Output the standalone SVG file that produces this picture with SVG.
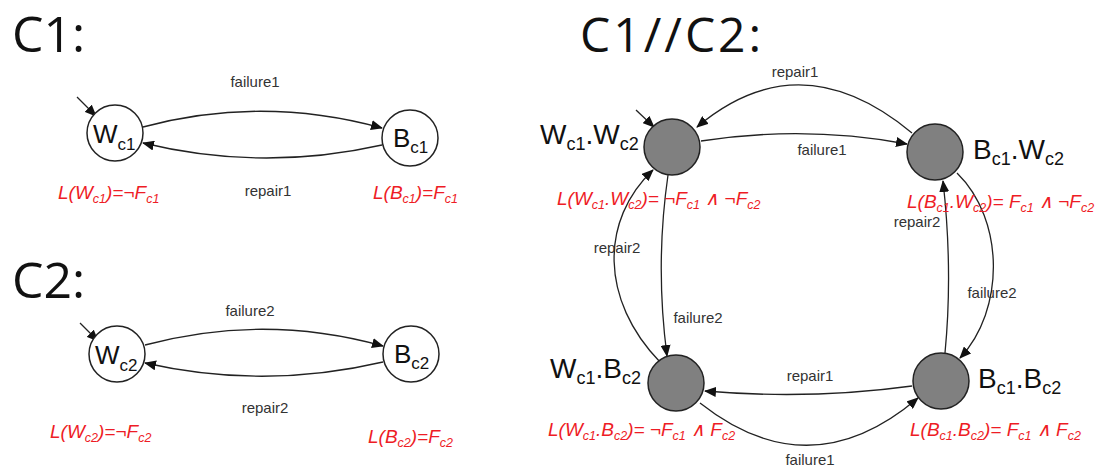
<svg xmlns="http://www.w3.org/2000/svg" width="1110" height="468" viewBox="0 0 1110 468">
<style>
.title{font-family:"Open Sans","Liberation Sans",sans-serif;font-size:50px;fill:#111}
.st{font-family:"Liberation Sans",Arial,sans-serif;font-size:26px;fill:#111}
.big{font-family:"Liberation Sans",Arial,sans-serif;font-size:28px;fill:#111}
.s{font-size:17px}
.sb{font-size:18px}
.lbl{font-family:"Liberation Sans",Arial,sans-serif;font-size:15px;fill:#333}
.prop{font-family:"Liberation Sans",Arial,sans-serif;font-style:italic;font-size:19px;fill:#ee1c25}
.ps{font-size:12.5px}
.ring{fill:#fff;stroke:#222;stroke-width:1.5}
.dot{fill:#808080;stroke:#222;stroke-width:1.5}
.edge{fill:none;stroke:#222;stroke-width:1.3;marker-end:url(#arr)}
</style>
<defs>
<marker id="arr" markerWidth="12" markerHeight="10" refX="11" refY="5" orient="auto" markerUnits="userSpaceOnUse">
<path d="M0,0 L12,5 L0,10 z" fill="#111"/>
</marker>
</defs>

<text class="title" x="12" y="52">C1:</text>
<text class="title" x="12" y="298">C2:</text>
<text class="title" x="580" y="52" style="font-size:48px" letter-spacing="3">C1//C2:</text>

<g id="connectors">
<path class="edge" d="M77,97 L96,116"/>
<path class="edge" d="M143,127 Q262,95 382,128"/>
<path class="edge" d="M382,145 Q262,172 143,143"/>
<path class="edge" d="M80,323 L98,341"/>
<path class="edge" d="M145,345 Q264,313 383,346"/>
<path class="edge" d="M383,362 Q264,390 145,363"/>
<path class="edge" d="M636,110 L654,127"/>
<path class="edge" d="M912,133 Q800,40 697,127"/>
<path class="edge" d="M701,141 Q805,125 907,144"/>
<path class="edge" d="M668,175 Q655,265 667,356"/>
<path class="edge" d="M660,362 C600,300 600,220 653,170"/>
<path class="edge" d="M957,173 C1005,220 1005,310 960,358"/>
<path class="edge" d="M945,353 Q953,270 943,181"/>
<path class="edge" d="M912,386 Q810,400 705,391"/>
<path class="edge" d="M700,403 Q810,490 918,398"/>
<text class="lbl" x="255" y="87" text-anchor="middle">failure1</text>
<text class="lbl" x="268" y="196" text-anchor="middle">repair1</text>
<text class="lbl" x="250" y="316" text-anchor="middle">failure2</text>
<text class="lbl" x="265" y="413" text-anchor="middle">repair2</text>
<text class="lbl" x="795" y="77" text-anchor="middle">repair1</text>
<text class="lbl" x="822" y="155" text-anchor="middle">failure1</text>
<text class="lbl" x="698" y="323" text-anchor="middle">failure2</text>
<text class="lbl" x="617" y="253" text-anchor="middle">repair2</text>
<text class="lbl" x="917" y="227" text-anchor="middle">repair2</text>
<text class="lbl" x="992" y="298" text-anchor="middle">failure2</text>
<text class="lbl" x="810" y="381" text-anchor="middle">repair1</text>
<text class="lbl" x="810" y="465" text-anchor="middle">failure1</text>
</g>

<g id="Wc1">
<circle class="ring" cx="115" cy="133" r="28"/>
<text class="st" x="93" y="143">W<tspan class="s" dy="7">c1</tspan></text>
<text class="prop" x="58" y="199">L(W<tspan class="ps" dy="4">c1</tspan><tspan dy="-4">)=¬F</tspan><tspan class="ps" dy="4">c1</tspan></text>
</g>
<g id="Bc1">
<circle class="ring" cx="410" cy="138" r="28"/>
<text class="st" x="393" y="147">B<tspan class="s" dy="6">c1</tspan></text>
<text class="prop" x="373" y="199">L(B<tspan class="ps" dy="4">c1</tspan><tspan dy="-4">)=F</tspan><tspan class="ps" dy="4">c1</tspan></text>
</g>
<g id="Wc2">
<circle class="ring" cx="117" cy="354" r="28"/>
<text class="st" x="95" y="364">W<tspan class="s" dy="7">c2</tspan></text>
<text class="prop" x="50" y="438">L(W<tspan class="ps" dy="4">c2</tspan><tspan dy="-4">)=¬F</tspan><tspan class="ps" dy="4">c2</tspan></text>
</g>
<g id="Bc2">
<circle class="ring" cx="411" cy="354" r="28"/>
<text class="st" x="394" y="363">B<tspan class="s" dy="6">c2</tspan></text>
<text class="prop" x="368" y="443">L(B<tspan class="ps" dy="4">c2</tspan><tspan dy="-4">)=F</tspan><tspan class="ps" dy="4">c2</tspan></text>
</g>

<g id="WW">
<circle class="dot" cx="672" cy="147" r="28"/>
<text class="big" x="540" y="144">W<tspan class="sb" dy="6">c1</tspan><tspan dy="-6">.W</tspan><tspan class="sb" dy="6">c2</tspan></text>
<text class="prop" x="557" y="205">L(W<tspan class="ps" dy="4">c1</tspan><tspan dy="-4">.W</tspan><tspan class="ps" dy="4">c2</tspan><tspan dy="-4">)= ¬F</tspan><tspan class="ps" dy="4">c1</tspan><tspan dy="-4"> ∧ ¬F</tspan><tspan class="ps" dy="4">c2</tspan></text>
</g>
<g id="BW">
<circle class="dot" cx="935" cy="152" r="28"/>
<text class="big" x="973" y="159">B<tspan class="sb" dy="6">c1</tspan><tspan dy="-6">.W</tspan><tspan class="sb" dy="6">c2</tspan></text>
<text class="prop" x="907" y="208">L(B<tspan class="ps" dy="4">c1</tspan><tspan dy="-4">.W</tspan><tspan class="ps" dy="4">c2</tspan><tspan dy="-4">)= F</tspan><tspan class="ps" dy="4">c1</tspan><tspan dy="-4"> ∧  ¬F</tspan><tspan class="ps" dy="4">c2</tspan></text>
</g>
<g id="WB">
<circle class="dot" cx="676" cy="383" r="28"/>
<text class="big" x="550" y="378">W<tspan class="sb" dy="6">c1</tspan><tspan dy="-6">.B</tspan><tspan class="sb" dy="6">c2</tspan></text>
<text class="prop" x="548" y="436">L(W<tspan class="ps" dy="4">c1</tspan><tspan dy="-4">.B</tspan><tspan class="ps" dy="4">c2</tspan><tspan dy="-4">)= ¬F</tspan><tspan class="ps" dy="4">c1</tspan><tspan dy="-4"> ∧ F</tspan><tspan class="ps" dy="4">c2</tspan></text>
</g>
<g id="BB">
<circle class="dot" cx="941" cy="381" r="28"/>
<text class="big" x="978" y="388">B<tspan class="sb" dy="6">c1</tspan><tspan dy="-6">.B</tspan><tspan class="sb" dy="6">c2</tspan></text>
<text class="prop" x="910" y="436">L(B<tspan class="ps" dy="4">c1</tspan><tspan dy="-4">.B</tspan><tspan class="ps" dy="4">c2</tspan><tspan dy="-4">)= F</tspan><tspan class="ps" dy="4">c1</tspan><tspan dy="-4"> ∧ F</tspan><tspan class="ps" dy="4">c2</tspan></text>
</g>
</svg>
